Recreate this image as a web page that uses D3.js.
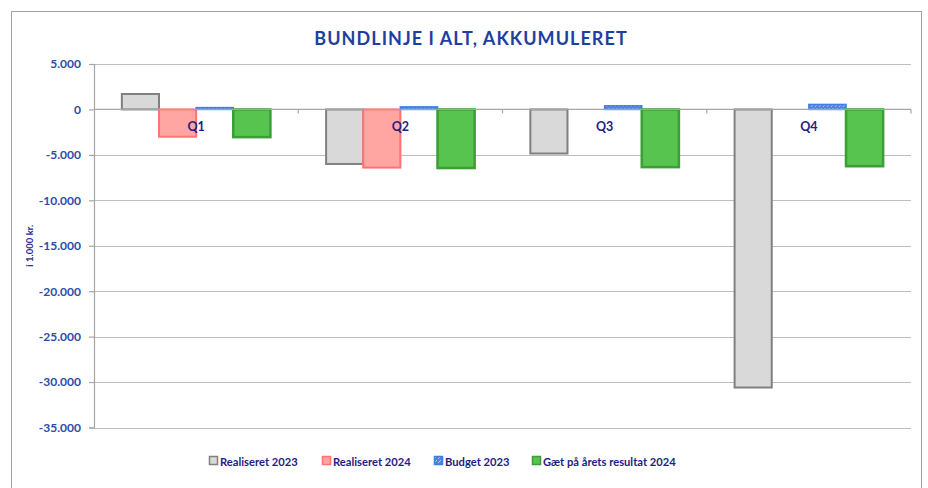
<!DOCTYPE html>
<html>
<head>
<meta charset="utf-8">
<script src="https://cdn.jsdelivr.net/npm/d3@7"></script>
<style>
html,body{margin:0;padding:0;background:#fff;}
svg{display:block;font-family:Lato,"Open Sans",sans-serif;}
</style>
</head>
<body>
<svg id="chart" width="928" height="488"></svg>
<script>
const categories = ["Q1", "Q2", "Q3", "Q4"];
const seriesNames = ["Realiseret 2023", "Realiseret 2024", "Budget 2023", "Gæt på årets resultat 2024"];
const realiseret2023 = [1700, -6000, -4850, -30600];
const realiseret2024 = [-3000, -6400, null, null];
const budget2023 = [200, 280, 400, 550];
const gaet2024 = [-3050, -6450, -6350, -6250];
const yTicks = [5000, 0, -5000, -10000, -15000, -20000, -25000, -30000, -35000];
const title = "BUNDLINJE I ALT, AKKUMULERET";
const yTitle = "i 1.000 kr.";

(function() {
const seriesValues = [realiseret2023, realiseret2024, budget2023, gaet2024];
const styles = [
  {fill: "#D9D9D9", stroke: "#808080", sw: 2},
  {fill: "#FFA5A2", stroke: "#FF7373", sw: 2},
  {fill: "url(#budgetPat)", stroke: "#3E7EE6", sw: 1.5},
  {fill: "#56C44E", stroke: "#3C9E36", sw: 2.5}
];

const svg = d3.select("#chart");
const defs = svg.append("defs");
const pat = defs.append("pattern").attr("id", "budgetPat").attr("patternUnits", "userSpaceOnUse")
  .attr("width", 4).attr("height", 4);
pat.append("rect").attr("width", 4).attr("height", 4).attr("fill", "#4A86E8");
pat.append("path").attr("d", "M0,3 L3,0").attr("stroke", "#C9DBFA").attr("stroke-width", 0.8);

// outer border
svg.append("rect").attr("x", 11.5).attr("y", 11.5).attr("width", 910).attr("height", 490)
  .attr("fill", "none").attr("stroke", "#A0A0A0").attr("stroke-width", 1);

const pLeft = 94, pRight = 911, pTop = 64, pBottom = 427.5;
const y = d3.scaleLinear().domain([-35000, 5000]).range([pBottom, pTop]);
const x0 = d3.scaleBand().domain(categories).range([pLeft, pRight]).paddingInner(0).paddingOuter(0);
const gap = x0.bandwidth() * 1.5 / 5.5;
const x1 = d3.scaleBand().domain(d3.range(seriesNames.length))
  .range([gap / 2, x0.bandwidth() - gap / 2]).padding(0);

// gridlines
svg.append("g").selectAll("line").data(yTicks.filter(d => d !== 0)).join("line")
  .attr("x1", pLeft).attr("x2", pRight)
  .attr("y1", d => Math.round(y(d)) + 0.5).attr("y2", d => Math.round(y(d)) + 0.5)
  .attr("stroke", "#BDBDBD").attr("stroke-width", 1.2);

// y axis
const yAxis = d3.axisLeft(y).tickValues(yTicks).tickSize(5).tickPadding(8)
  .tickFormat(d => d3.format(",")(d).replace(/,/g, ".").replace("−", "-"));
const ya = svg.append("g").attr("transform", `translate(${pLeft},0)`).call(yAxis);
ya.select(".domain").attr("stroke", "#A6A6A6").attr("stroke-width", 1.2);
ya.selectAll(".tick line").attr("stroke", "#A6A6A6").attr("stroke-width", 1.2);
ya.selectAll(".tick text").attr("fill", "#2C4DA3").attr("font-size", 12).attr("font-weight", "bold")
  .attr("font-family", "Lato, sans-serif");

// bars
const groups = svg.append("g").selectAll("g").data(categories).join("g")
  .attr("transform", d => `translate(${x0(d)},0)`);
groups.each(function(cat, ci) {
  const g = d3.select(this);
  seriesValues.forEach((vals, si) => {
    const v = vals[ci];
    if (v === null || v === undefined) return;
    const st = styles[si];
    g.append("rect")
      .attr("x", x1(si))
      .attr("width", x1.bandwidth())
      .attr("y", y(Math.max(0, v)))
      .attr("height", Math.abs(y(v) - y(0)))
      .attr("fill", st.fill).attr("stroke", st.stroke).attr("stroke-width", st.sw);
  });
});

// zero axis line and category ticks
svg.append("line").attr("x1", pLeft).attr("x2", pRight).attr("y1", y(0)).attr("y2", y(0))
  .attr("stroke", "#A6A6A6").attr("stroke-width", 1.2);
const bounds = categories.map(c => x0(c) + x0.bandwidth());
svg.append("g").selectAll("line").data(bounds).join("line")
  .attr("x1", d => d).attr("x2", d => d).attr("y1", y(0)).attr("y2", y(0) + 4)
  .attr("stroke", "#A6A6A6").attr("stroke-width", 1.2);

// category labels
svg.append("g").selectAll("text").data(categories).join("text")
  .attr("x", d => x0(d) + x0.bandwidth() / 2).attr("y", y(0) + 22)
  .attr("text-anchor", "middle").attr("fill", "#1F2083").attr("font-size", 12.5)
  .attr("font-weight", "bold").text(d => d);

// title
svg.append("text").attr("x", 471).attr("y", 45).attr("text-anchor", "middle")
  .attr("fill", "#1E3FA0").attr("font-size", 18).attr("font-weight", "bold")
  .attr("letter-spacing", 1.05).text(title);

// y title
svg.append("text").attr("transform", `translate(33,${(pTop + pBottom) / 2}) rotate(-90)`)
  .attr("text-anchor", "middle").attr("fill", "#2B2B8C").attr("font-size", 9.5)
  .attr("font-weight", "bold").text(yTitle);

// legend
const legendX = [209, 322, 434, 532];
const lg = svg.append("g").selectAll("g").data(seriesNames).join("g")
  .attr("transform", (d, i) => `translate(${legendX[i]},456)`);
lg.append("rect").attr("x", 0.5).attr("y", 0.5).attr("width", 8).attr("height", 8)
  .attr("fill", (d, i) => styles[i].fill).attr("stroke", (d, i) => styles[i].stroke)
  .attr("stroke-width", 1.5);
lg.append("text").attr("x", 11).attr("y", 9.5).attr("fill", "#1F2083").attr("font-size", 11.2)
  .attr("font-weight", "bold").text(d => d);
})();
</script>
</body>
</html>
